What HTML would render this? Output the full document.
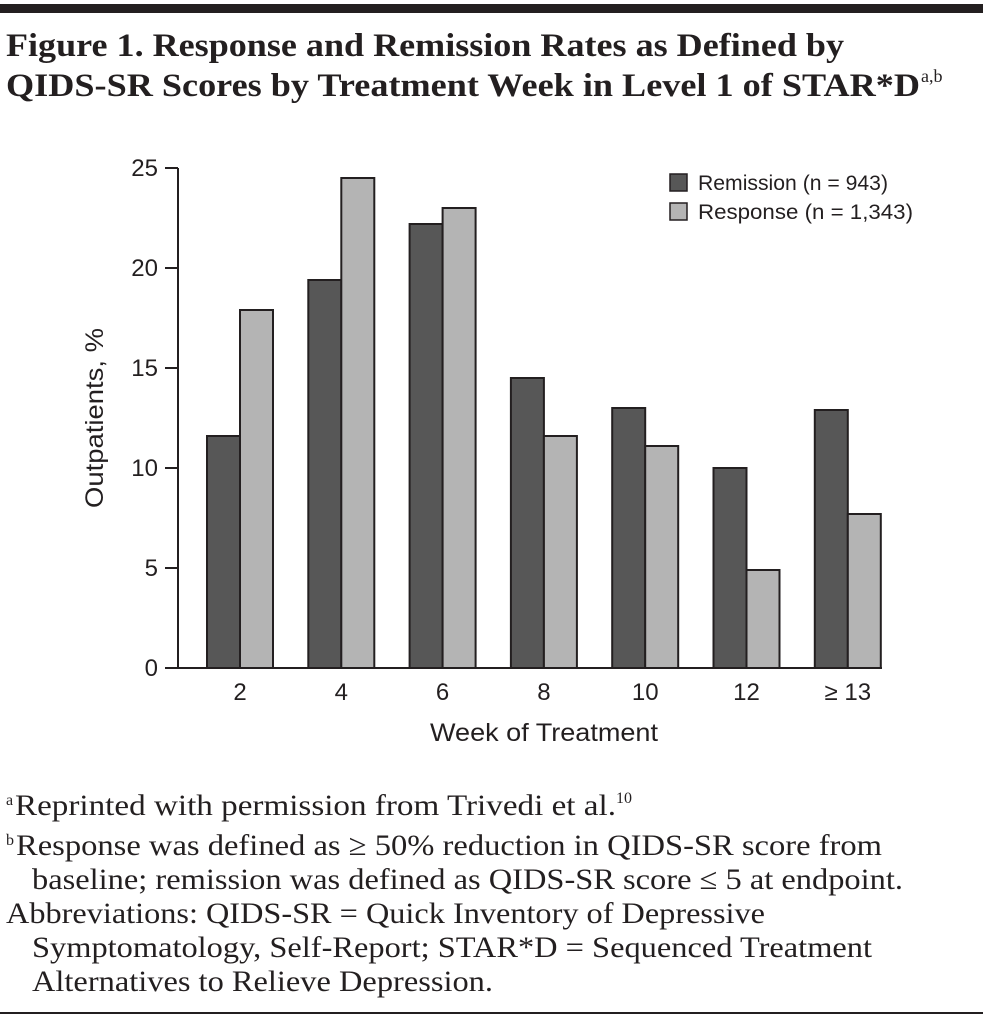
<!DOCTYPE html>
<html><head><meta charset="utf-8"><style>body{margin:0;background:#fff}svg{display:block}</style></head>
<body>
<svg width="989" height="1021" xmlns="http://www.w3.org/2000/svg">
<rect x="0" y="4" width="983" height="9" fill="#231f20"/>
<g font-family="Liberation Serif, serif" font-weight="bold" font-size="33" fill="#231f20">
<text x="6" y="56" textLength="838" lengthAdjust="spacingAndGlyphs">Figure 1. Response and Remission Rates as Defined by</text>
<text x="6" y="96" textLength="914" lengthAdjust="spacingAndGlyphs">QIDS-SR Scores by Treatment Week in Level 1 of STAR*D</text>
<text x="921" y="82" font-size="18" font-weight="normal">a,b</text>
</g>
<g id="chart"></g>
<g font-family="Liberation Serif, serif" font-size="30" fill="#231f20">
<text x="6" y="805" font-size="16">a</text>
<text x="15" y="815" textLength="601" lengthAdjust="spacingAndGlyphs">Reprinted with permission from Trivedi et al.</text>
<text x="616" y="803" font-size="16">10</text>
<text x="6" y="845" font-size="16">b</text>
<text x="16" y="855" textLength="866" lengthAdjust="spacingAndGlyphs">Response was defined as ≥ 50% reduction in QIDS-SR score from</text>
<text x="32" y="889" textLength="871" lengthAdjust="spacingAndGlyphs">baseline; remission was defined as QIDS-SR score ≤ 5 at endpoint.</text>
<text x="6" y="923" textLength="759" lengthAdjust="spacingAndGlyphs">Abbreviations: QIDS-SR = Quick Inventory of Depressive</text>
<text x="32" y="957" textLength="840" lengthAdjust="spacingAndGlyphs">Symptomatology, Self-Report; STAR*D = Sequenced Treatment</text>
<text x="32" y="991" textLength="461" lengthAdjust="spacingAndGlyphs">Alternatives to Relieve Depression.</text>
</g>
<rect x="0" y="1012" width="983" height="2" fill="#231f20"/>
</svg>
<script>
const categories=["2","4","6","8","10","12","≥ 13"];
const remission=[11.6,19.4,22.2,14.5,13.0,10.0,12.9];
const response=[17.9,24.5,23.0,11.6,11.1,4.9,7.7];
const yTicks=[0,5,10,15,20,25];
const NS="http://www.w3.org/2000/svg";
const g=document.getElementById('chart');
const x0=178,x1=882,yb=668,yt=168,ymax=25;
const y=v=>yb-(v/ymax)*(yb-yt);
const gx=i=>240+i*101.3;
function mk(t,a,txt){const e=document.createElementNS(NS,t);for(const k in a)e.setAttribute(k,a[k]);if(txt!=null)e.textContent=txt;g.appendChild(e);return e;}
const F="Liberation Sans, DejaVu Sans, sans-serif";
yTicks.forEach(v=>{
 const l=mk('line',{x1:165,x2:x0,y1:y(v),y2:y(v),stroke:'#231f20','stroke-width':2});
 
 
 const t=mk('text',{x:158,y:y(v)+8,'text-anchor':'end','font-family':F,'font-size':24,fill:'#231f20'},v);
 
 
});
categories.forEach((c,i)=>{
 const w=33;
 const r1=mk('rect',{x:gx(i)-w,y:y(remission[i]),width:w,height:yb-y(remission[i]),fill:'#575757',stroke:'#231f20','stroke-width':2});
 
 
 const r2=mk('rect',{x:gx(i),y:y(response[i]),width:w,height:yb-y(response[i]),fill:'#b4b4b4',stroke:'#231f20','stroke-width':2});
 
 
 const t=mk('text',{x:gx(i),y:700,'text-anchor':'middle','font-family':F,'font-size':24,fill:'#231f20'},c);
 
 
});
const ax=mk('line',{x1:x0,x2:x0,y1:yt,y2:yb,stroke:'#231f20','stroke-width':2});


const bx=mk('line',{x1:165,x2:x1,y1:yb,y2:yb,stroke:'#231f20','stroke-width':2});


const xt=mk('text',{x:544,y:741,'text-anchor':'middle','font-family':F,'font-size':25,fill:'#231f20',textLength:228,lengthAdjust:'spacingAndGlyphs'},'Week of Treatment');


const yt2=mk('text',{x:0,y:0,transform:'translate(103,418) rotate(-90)','text-anchor':'middle','font-family':F,'font-size':25,fill:'#231f20',textLength:180,lengthAdjust:'spacingAndGlyphs'},'Outpatients, %');


[["Remission (n = 943)",'#575757',182,190],["Response (n = 1,343)",'#b4b4b4',211,215]].forEach(([lab,col,yy,len])=>{
 const r=mk('rect',{x:670,y:yy-8,width:17,height:17,fill:col,stroke:'#231f20','stroke-width':1.5});
 
 
 const t=mk('text',{x:698,y:yy+8,'font-family':F,'font-size':21,fill:'#231f20',textLength:len,lengthAdjust:'spacingAndGlyphs'},lab);
 
 
});
</script>
</body></html>
